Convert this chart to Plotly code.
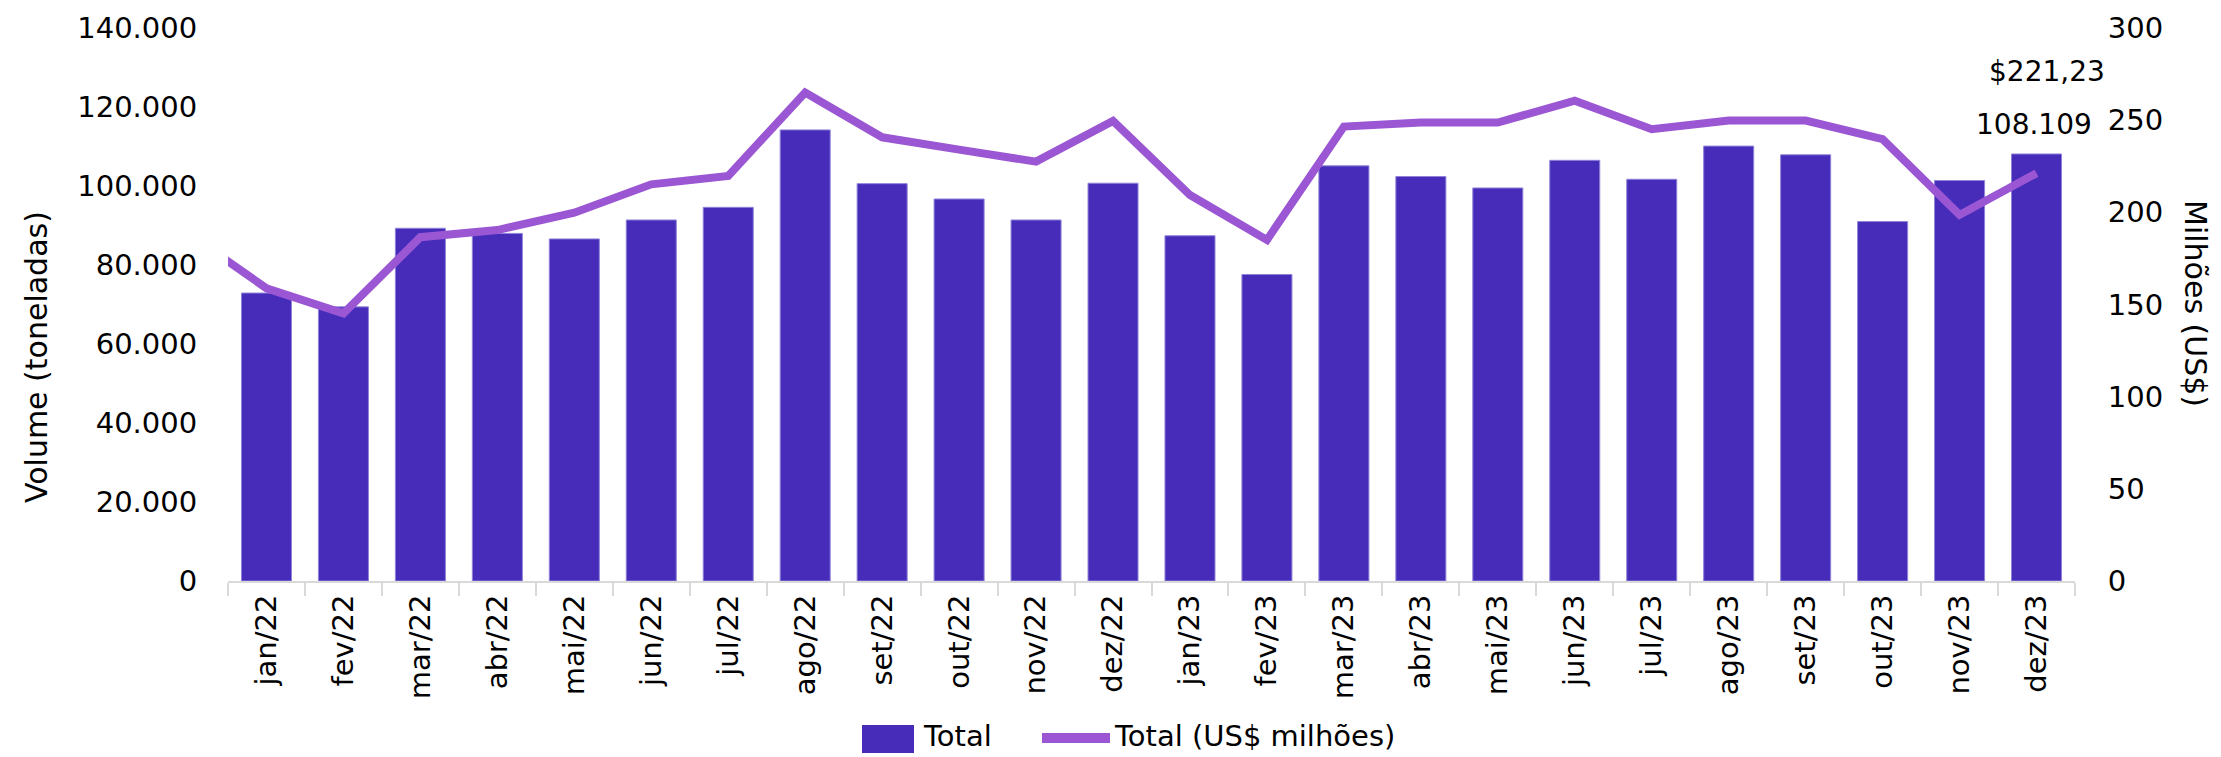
import plotly.graph_objects as go

months = ["jan/22", "fev/22", "mar/22", "abr/22", "mai/22", "jun/22", "jul/22", "ago/22",
          "set/22", "out/22", "nov/22", "dez/22", "jan/23", "fev/23", "mar/23", "abr/23",
          "mai/23", "jun/23", "jul/23", "ago/23", "set/23", "out/23", "nov/23", "dez/23"]
volume_t = [72900, 69400, 89300, 88000, 86600, 91400, 94600, 114200,
            100600, 96700, 91400, 100700, 87400, 77600, 105100, 102400,
            99500, 106500, 101700, 110100, 107900, 91000, 101400, 108109]
value_usd_mi = [158.8, 145.2, 186.5, 190.4, 199.8, 215.2, 219.7, 265.0,
                240.7, 234.0, 227.5, 249.6, 209.4, 185.0, 246.5, 248.7,
                248.7, 260.6, 245.1, 249.8, 249.8, 239.7, 198.6, 221.23]
# previous month (dez/21), only visible as the line entering from the left edge
prev_value_usd_mi = 188.0

left_ticks = [0, 20000, 40000, 60000, 80000, 100000, 120000, 140000]
right_ticks = [0, 50, 100, 150, 200, 250, 300]

BAR = "#472cba"
LINE = "#9b57d3"
FONT = "DejaVu Sans"

W, H = 2221, 757
L, R, T, B = 228, 146, 28, 176
pw, ph = W - L - R, H - T - B

def px_x(px):
    return (px - L) / pw

def px_y(py):
    return (H - B - py) / ph

xs = list(range(len(months)))

fig = go.Figure()
fig.add_trace(go.Bar(
    x=xs, y=volume_t, name="Total",
    marker=dict(color=BAR, line=dict(color="#8f83d8", width=1)),
    showlegend=False, yaxis="y",
))
fig.add_trace(go.Scatter(
    x=[-1] + xs, y=[prev_value_usd_mi] + value_usd_mi, name="Total (US$ milhões)",
    mode="lines", line=dict(color=LINE, width=8), yaxis="y2", showlegend=False,
))

def fmt_int(v):
    return f"{v:,}".replace(",", ".")

fig.update_layout(
    width=W, height=H,
    margin=dict(l=L, r=R, t=T, b=B),
    paper_bgcolor="white", plot_bgcolor="white",
    bargap=0.35,
    font=dict(family=FONT, size=27, color="#000000"),
    xaxis=dict(
        range=[-0.5, len(months) - 0.5],
        tickmode="array", tickvals=xs, ticktext=months,
        tickangle=-90, ticks="", showgrid=False, zeroline=False,
        showline=True, linecolor="#d9d9d9", linewidth=2,
        tickfont=dict(family=FONT, size=29),
        minor=dict(tickmode="linear", tick0=-0.5, dtick=1, ticks="outside",
                   ticklen=13, tickcolor="#d9d9d9", tickwidth=2, showgrid=False),
    ),
    yaxis=dict(
        range=[0, 140000], tickmode="array", tickvals=left_ticks,
        ticktext=[fmt_int(v) for v in left_ticks],
        showgrid=False, zeroline=False, showline=False,
        ticks="outside", ticklen=24, tickcolor="rgba(0,0,0,0)",
        tickfont=dict(family=FONT, size=29),
    ),
    yaxis2=dict(
        range=[0, 300], overlaying="y", side="right", tickmode="array",
        tickvals=right_ticks, ticktext=[str(v) for v in right_ticks],
        showgrid=False, zeroline=False, showline=False,
        ticks="outside", ticklen=26, tickcolor="rgba(0,0,0,0)",
        tickfont=dict(family=FONT, size=29),
    ),
)

annotations = [
    dict(x=xs[-1], y=volume_t[-1], xref="x", yref="y", text=fmt_int(volume_t[-1]),
         showarrow=False, yshift=29, xshift=-3, font=dict(family=FONT, size=28)),
    dict(x=xs[-1], y=volume_t[-1], xref="x", yref="y",
         text="$" + f"{value_usd_mi[-1]:.2f}".replace(".", ","),
         showarrow=False, yshift=82, xshift=10, font=dict(family=FONT, size=28)),
    dict(x=px_x(36), y=px_y(357), xref="paper", yref="paper", text="Volume (toneladas)",
         textangle=-90, showarrow=False, xanchor="center", yanchor="middle",
         font=dict(family=FONT, size=30)),
    dict(x=px_x(2196), y=px_y(303), xref="paper", yref="paper", text="Milhões (US$)",
         textangle=90, showarrow=False, xanchor="center", yanchor="middle",
         font=dict(family=FONT, size=30)),
    dict(x=px_x(921), y=px_y(736), xref="paper", yref="paper", text="Total",
         xanchor="left", yanchor="middle", showarrow=False, font=dict(family=FONT, size=29)),
    dict(x=px_x(1112), y=px_y(736), xref="paper", yref="paper", text="Total (US$ milhões)",
         xanchor="left", yanchor="middle", showarrow=False, font=dict(family=FONT, size=29)),
]
fig.update_layout(annotations=annotations)

fig.update_layout(shapes=[
    dict(type="rect", xref="paper", yref="paper",
         x0=px_x(862), x1=px_x(914), y0=px_y(753), y1=px_y(725),
         fillcolor=BAR, line=dict(width=0)),
    dict(type="line", xref="paper", yref="paper",
         x0=px_x(1042), x1=px_x(1110), y0=px_y(738), y1=px_y(738),
         line=dict(color=LINE, width=10)),
])

fig.write_html("out.html", config={"displayModeBar": False},
               post_script="document.body.style.margin='0';")
